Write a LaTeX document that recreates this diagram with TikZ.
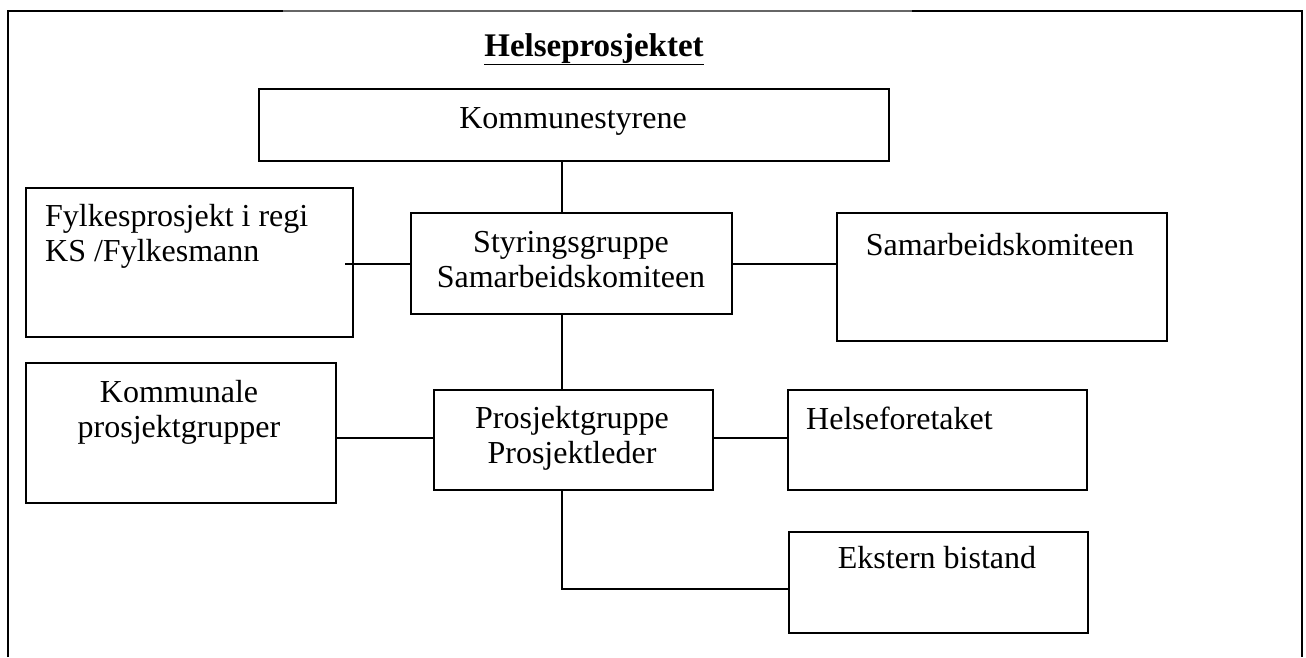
\documentclass[tikz,border=0pt]{standalone}
\usepackage{fontspec}
\setmainfont{Liberation Serif}
\begin{document}
\begin{tikzpicture}[x=1pt,y=-1pt,
  box/.style={draw, line width=1.6pt, inner sep=0pt, anchor=north west},
  txt/.style={font=\fontsize{32}{35}\selectfont, inner sep=0pt, align=center},
  conn/.style={line width=1.6pt}]
\useasboundingbox (0,0) rectangle (1306,657);
% frame
\draw[line width=1.6pt] (8,657) -- (8,11) -- (283,11);
\draw[line width=1.6pt, black!60] (283,11) -- (912,11);
\draw[line width=1.6pt] (912,11) -- (1302,11) -- (1302,657);
% title
\node[txt, font=\fontsize{33}{36}\selectfont\bfseries, anchor=base] (title) at (594,56) {\underline{Helseprosjektet}};
% boxes
\node[box, minimum width=630, minimum height=72] (ks) at (258,88) {};
\node[box, minimum width=327, minimum height=149] (fy) at (25,187) {};
\node[box, minimum width=321, minimum height=101] (sg) at (410,212) {};
\node[box, minimum width=330, minimum height=128] (sk) at (836,212) {};
\node[box, minimum width=310, minimum height=140] (kp) at (25,362) {};
\node[box, minimum width=279, minimum height=100] (pg) at (433,389) {};
\node[box, minimum width=299, minimum height=100] (hf) at (787,389) {};
\node[box, minimum width=299, minimum height=101] (eb) at (788,531) {};
% texts
\node[txt, anchor=base] (kst) at (573,128) {Kommunestyrene};
\node[txt, anchor=base west] (fyt1) at (45,226) {Fylkesprosjekt i regi};
\node[txt, anchor=base west] (fyt2) at (45,261) {KS /Fylkesmann};
\node[txt, anchor=base] (sgt1) at (571,252) {Styringsgruppe};
\node[txt, anchor=base] (sgt2) at (571,287) {Samarbeidskomiteen};
\node[txt, anchor=base] (skt) at (1000,255) {Samarbeidskomiteen};
\node[txt, anchor=base] (kpt1) at (179,402) {Kommunale};
\node[txt, anchor=base] (kpt2) at (179,437) {prosjektgrupper};
\node[txt, anchor=base] (pgt1) at (572,428) {Prosjektgruppe};
\node[txt, anchor=base] (pgt2) at (572,463) {Prosjektleder};
\node[txt, anchor=base west] (hft) at (806,429) {Helseforetaket};
\node[txt, anchor=base] (ebt) at (937,568) {Ekstern bistand};
% connectors
\coordinate (fyend) at (345,264);
\draw[conn] (ks.south -| 562,0) -- (sg.north -| 562,0);
\draw[conn] (sg.west |- 0,264) -- (fyend);
\draw[conn] (sg.east |- 0,264) -- (sk.west |- 0,264);
\draw[conn] (sg.south -| 562,0) -- (pg.north -| 562,0);
\draw[conn] (pg.west |- 0,438) -- (kp.east |- 0,438);
\draw[conn] (pg.east |- 0,438) -- (hf.west |- 0,438);
\draw[conn] (pg.south -| 562,0) -- (562,589) -- (eb.west |- 0,589);
\end{tikzpicture}
\end{document}
